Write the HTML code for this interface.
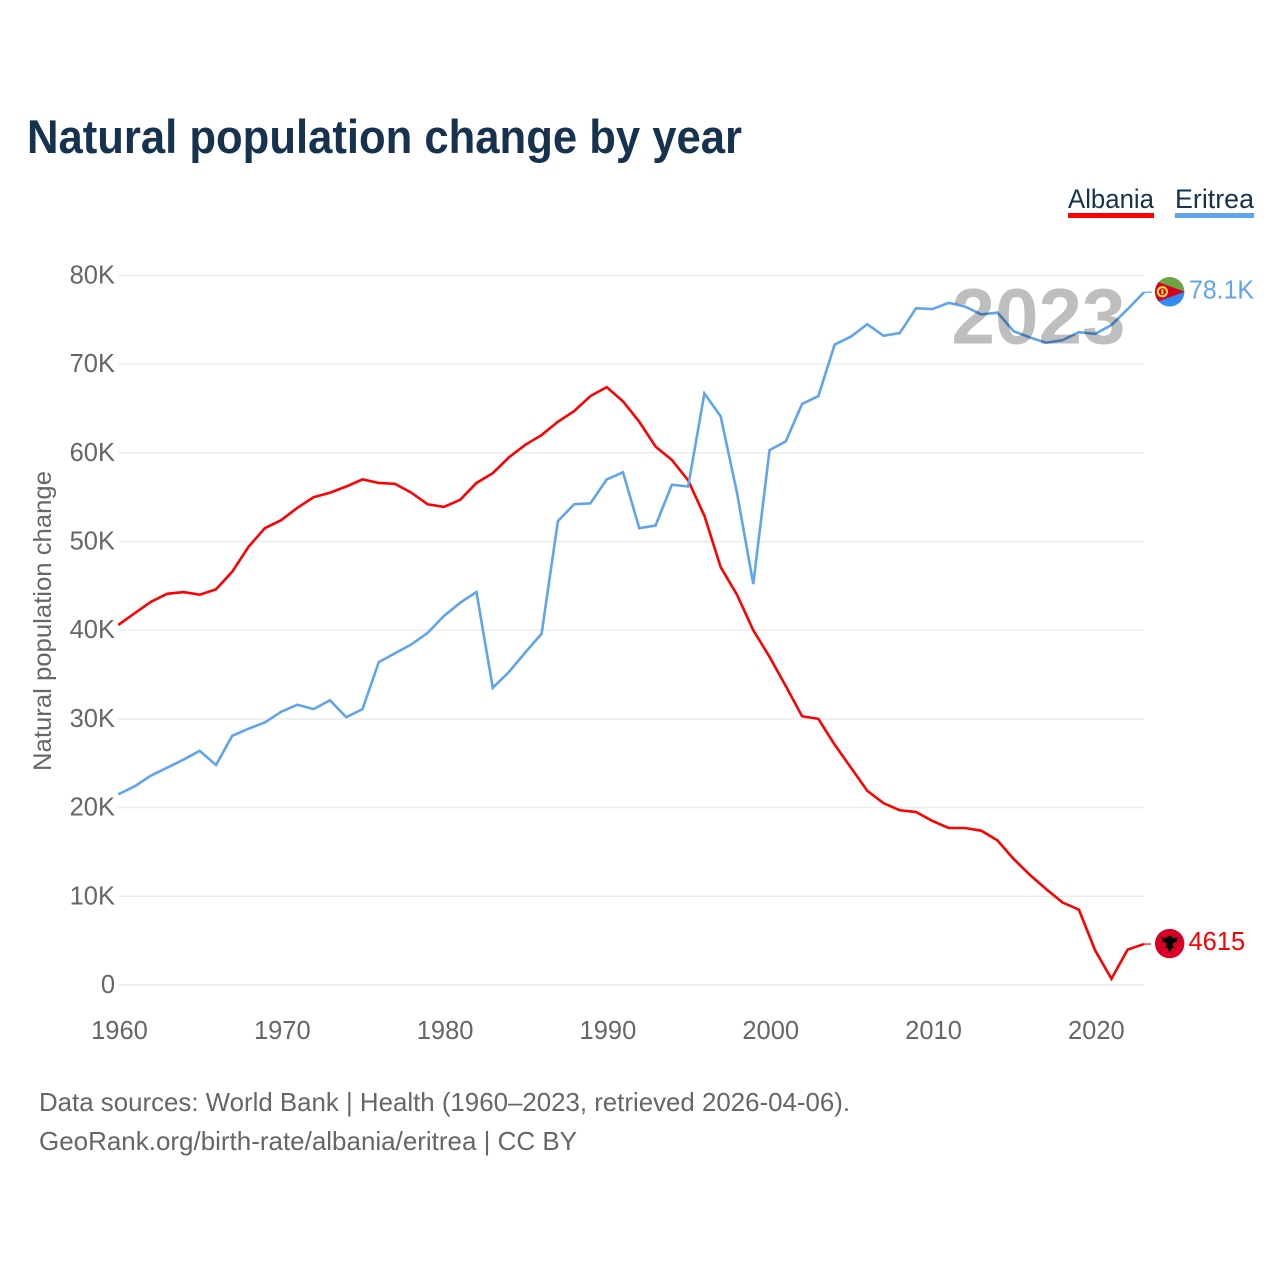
<!DOCTYPE html>
<html lang="en">
<head>
<meta charset="utf-8">
<title>Natural population change by year</title>
<style>
html,body{margin:0;padding:0;background:#fff;width:1280px;height:1280px;overflow:hidden}
svg{display:block;font-family:"Liberation Sans",sans-serif}
</style>
</head>
<body>
<svg id="chart" xmlns="http://www.w3.org/2000/svg" width="1280" height="1280" viewBox="0 0 1280 1280">
  <rect x="0" y="0" width="1280" height="1280" fill="#ffffff"/>
  <text x="27" y="153" font-size="47" font-weight="700" fill="#17324f" textLength="715" lengthAdjust="spacingAndGlyphs">Natural population change by year</text>

  <g>
    <g>
      <text x="1068" y="208" font-size="27" fill="#17324f" textLength="86" lengthAdjust="spacingAndGlyphs">Albania</text>
      <rect x="1068" y="213" width="86" height="5" fill="#ff0000"/>
    </g>
    <g>
      <text x="1175" y="208" font-size="27" fill="#17324f" textLength="79" lengthAdjust="spacingAndGlyphs">Eritrea</text>
      <rect x="1175" y="213" width="79" height="5" fill="#5ea5ee"/>
    </g>
  </g>

  <g id="grid"></g>
  <g id="yticks"></g>
  <g id="xticks"></g>
  <text transform="translate(51,621) rotate(-90)" text-anchor="middle" font-size="25" fill="#666666" textLength="300" lengthAdjust="spacingAndGlyphs">Natural population change</text>

  <g id="series"></g>
  <text x="1038.5" y="343.5" text-anchor="middle" font-size="79" font-weight="700" fill="#000000" fill-opacity="0.255" textLength="174" lengthAdjust="spacingAndGlyphs">2023</text>
  <g id="ends"></g>

  <text x="39" y="1111" font-size="26" fill="#666666" textLength="811" lengthAdjust="spacingAndGlyphs">Data sources: World Bank | Health (1960–2023, retrieved 2026-04-06).</text>
  <text x="39" y="1150" font-size="26" fill="#666666" textLength="538" lengthAdjust="spacingAndGlyphs">GeoRank.org/birth-rate/albania/eritrea | CC BY</text>
</svg>

<script>
var startYear = 1960;
var endYear = 2023;
var yTickValues = [0, 10000, 20000, 30000, 40000, 50000, 60000, 70000, 80000];
var yTickLabels = ['0', '10K', '20K', '30K', '40K', '50K', '60K', '70K', '80K'];
var xTickYears = [1960, 1970, 1980, 1990, 2000, 2010, 2020];
var albaniaValues = [
  40600, 41900, 43200, 44100, 44300, 44000, 44600, 46600, 49400, 51500,
  52400, 53800, 55000, 55500, 56200, 57000, 56600, 56500, 55500, 54200,
  53900, 54700, 56600, 57700, 59500, 60900, 62000, 63500, 64700, 66400,
  67400, 65800, 63500, 60700, 59200, 56900, 52900, 47100, 44000, 40000,
  37000, 33700, 30300, 30000, 27100, 24500, 21900, 20500, 19700, 19500,
  18500, 17700, 17700, 17400, 16300, 14200, 12400, 10800, 9300, 8500,
  3900, 700, 4000, 4615
];
var eritreaValues = [
  21500, 22400, 23600, 24500, 25400, 26400, 24800, 28100, 28900, 29600,
  30800, 31600, 31100, 32100, 30200, 31100, 36400, 37400, 38400, 39700,
  41600, 43100, 44300, 33500, 35300, 37500, 39600, 52300, 54200, 54300,
  57000, 57800, 51500, 51800, 56400, 56200, 66700, 64100, 55500, 45200,
  60300, 61300, 65500, 66400, 72200, 73100, 74500, 73200, 73500, 76300,
  76200, 76900, 76500, 75600, 75800, 73700, 73000, 72400, 72700, 73600,
  73400, 74400, 76200, 78100
];
var albaniaEndLabel = '4615';
var eritreaEndLabel = '78.1K';

var NS = 'http://www.w3.org/2000/svg';

function xScale(year) {
  return 118.3 + (year - startYear) * (1144 - 118.3) / (endYear - startYear);
}
function yScale(value) {
  return 985 - value * (985 - 275.4) / 80000;
}
function make(tag, attrs, parent, text) {
  var el = document.createElementNS(NS, tag);
  for (var k in attrs) { el.setAttribute(k, attrs[k]); }
  if (text !== undefined) { el.textContent = text; }
  parent.appendChild(el);
  return el;
}
function pathFor(values) {
  var d = '';
  for (var i = 0; i < values.length; i++) {
    d += (i ? 'L' : 'M') + xScale(startYear + i).toFixed(2) + ' ' + yScale(values[i]).toFixed(2);
  }
  return d;
}

var grid = document.getElementById('grid');
var yticks = document.getElementById('yticks');
var xticks = document.getElementById('xticks');
var series = document.getElementById('series');
var ends = document.getElementById('ends');

yTickValues.forEach(function (v, i) {
  var line = make('line', {x1: xScale(startYear), x2: xScale(endYear), y1: yScale(v), y2: yScale(v), stroke: '#ebebeb', 'stroke-width': 1.4}, grid);
  
  
  var label = make('text', {x: 115, y: yScale(v) + 8, 'text-anchor': 'end', 'font-size': 25.5, fill: '#666666'}, yticks, yTickLabels[i]);
  
  
});

xTickYears.forEach(function (yr) {
  var label = make('text', {x: xScale(yr) + 1.2, y: 1039, 'text-anchor': 'middle', 'font-size': 25.5, fill: '#666666'}, xticks, String(yr));
  
  
});

var albaniaLine = make('path', {d: pathFor(albaniaValues), fill: 'none', stroke: '#ff0000', 'stroke-width': 2.6, 'stroke-linejoin': 'miter'}, series);


var eritreaLine = make('path', {d: pathFor(eritreaValues), fill: 'none', stroke: '#5ea5ee', 'stroke-width': 2.6, 'stroke-linejoin': 'miter'}, series);



var lastA = albaniaValues[albaniaValues.length - 1];
var lastE = eritreaValues[eritreaValues.length - 1];
var endX = xScale(endYear);
var flagX = endX + 25.7;

var connA = make('line', {x1: endX, x2: endX + 7, y1: yScale(lastA), y2: yScale(lastA), stroke: '#ff0000', 'stroke-width': 1.2}, ends);


var connE = make('line', {x1: endX, x2: endX + 8, y1: yScale(lastE), y2: yScale(lastE), stroke: '#5ea5ee', 'stroke-width': 1.2}, ends);



/* Albania flag */
var fa = make('g', {transform: 'translate(' + flagX + ',' + (yScale(lastA) - 0.5) + ')'}, ends);


make('circle', {cx: 0, cy: 0, r: 14.7, fill: '#d80027'}, fa);
make('path', {d: 'M-8.5 -7 L-3.5 -5 L-2 -7.5 L0 -8 L2 -7.5 L3.5 -5 L8.5 -7 L7 -2 L3.5 -0.5 L3 2.5 L5 4 L2 4.5 L1.5 6.5 L0 8.5 L-1.5 6.5 L-2 4.5 L-5 4 L-3 2.5 L-3.5 -0.5 L-7 -2 Z', fill: '#000000'}, fa);

/* Eritrea flag */
var fe = make('g', {transform: 'translate(' + flagX + ',' + (yScale(lastE) - 0.5) + ')'}, ends);


var clip = make('clipPath', {id: 'eriClip'}, fe);
make('circle', {cx: 0, cy: 0, r: 14.7}, clip);
var eg = make('g', {'clip-path': 'url(#eriClip)'}, fe);
make('rect', {x: -15, y: -15, width: 30, height: 15, fill: '#6da544'}, eg);
make('rect', {x: -15, y: 0, width: 30, height: 15, fill: '#338af3'}, eg);
make('path', {d: 'M-15 -11 L15 0 L-15 11 Z', fill: '#d80027'}, eg);
make('circle', {cx: -7.3, cy: 0, r: 4.6, fill: 'none', stroke: '#ffda44', 'stroke-width': 2}, eg);
make('rect', {x: -8.3, y: -2.5, width: 2, height: 5, fill: '#ffda44'}, eg);

var labA = make('text', {x: 1188.5, y: yScale(lastA) + 6, 'font-size': 25.5, fill: '#ff0000'}, ends, albaniaEndLabel);


var labE = make('text', {x: 1189, y: yScale(lastE) + 6, 'font-size': 25.5, fill: '#5ea5ee', textLength: 65, lengthAdjust: 'spacingAndGlyphs'}, ends, eritreaEndLabel);


</script>
</body>
</html>
